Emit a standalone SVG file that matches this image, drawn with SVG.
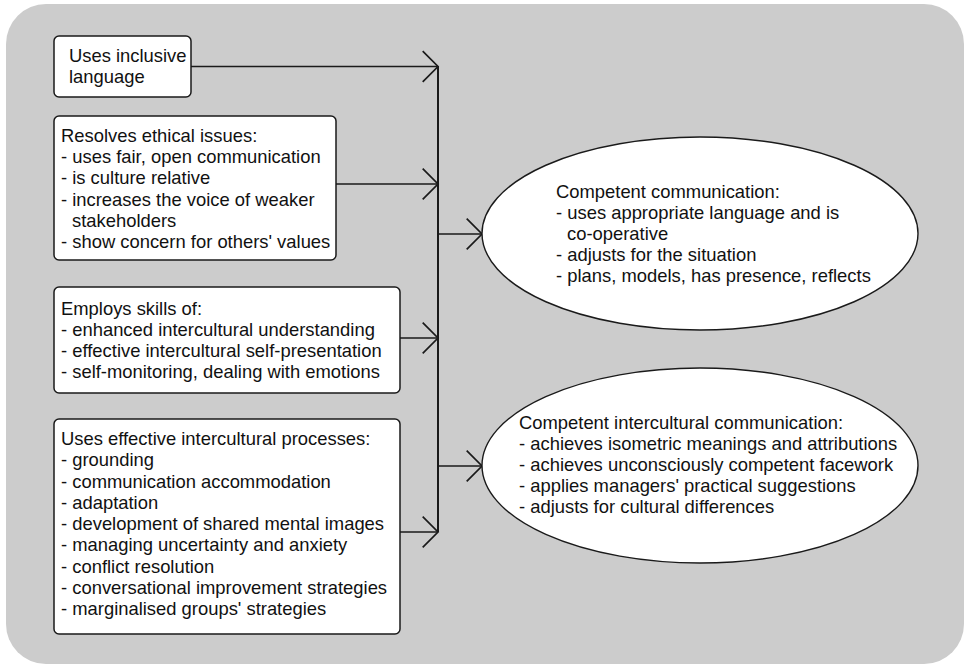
<svg xmlns="http://www.w3.org/2000/svg" width="967" height="666" viewBox="0 0 967 666">
  <style>
    .panel { fill: #cccccc; }
    .box { fill: #ffffff; stroke: #1a1a1a; stroke-width: 1.5; }
    .oval { fill: #ffffff; stroke: #1a1a1a; stroke-width: 1.4; }
    .wire { fill: none; stroke: #1a1a1a; stroke-width: 1.6; }
    .spine { fill: none; stroke: #1a1a1a; stroke-width: 2; }
    text { font-family: "Liberation Sans", Arial, sans-serif; font-size: 18.4px; fill: #111111; }
  </style>
  <defs>
    <marker id="chevron" markerUnits="userSpaceOnUse" markerWidth="20" markerHeight="34" viewBox="-16 -16 18 32" refX="0" refY="0" orient="auto">
      <path d="M-14.4,-14.4 L0,0 L-14.4,14.4" fill="none" stroke="#1a1a1a" stroke-width="1.6"/>
    </marker>
  </defs>

  <!-- grey panel -->
  <rect class="panel" x="6" y="4" width="958" height="660" rx="40" ry="40"/>

  <!-- connectors -->
  <g id="connectors">
    <path class="wire" d="M191,66.5 H438" marker-end="url(#chevron)"/>
    <path class="wire" d="M336,184 H438" marker-end="url(#chevron)"/>
    <path class="wire" d="M400,338 H438" marker-end="url(#chevron)"/>
    <path class="wire" d="M400,532 H438" marker-end="url(#chevron)"/>
    <path class="spine" d="M438,66 V532"/>
    <path class="wire" d="M438,234 H482" marker-end="url(#chevron)"/>
    <path class="wire" d="M438,466 H482" marker-end="url(#chevron)"/>
  </g>

  <g id="inclusive-language">
    <rect class="box" x="54" y="36" width="137" height="61" rx="5"/>
    <text x="69" y="62">Uses inclusive<tspan x="69" y="83">language</tspan></text>
  </g>

  <g id="ethical-issues">
    <rect class="box" x="54" y="116" width="282" height="144" rx="5"/>
    <text x="61" y="142">Resolves ethical issues:<tspan x="61" y="163">- uses fair, open communication</tspan><tspan x="61" y="184">- is culture relative</tspan><tspan x="61" y="206">- increases the voice of weaker</tspan><tspan x="72" y="227">stakeholders</tspan><tspan x="61" y="248">- show concern for others' values</tspan></text>
  </g>

  <g id="skills">
    <rect class="box" x="54" y="287" width="346" height="106" rx="5"/>
    <text x="61" y="315">Employs skills of:<tspan x="61" y="336">- enhanced intercultural understanding</tspan><tspan x="61" y="357">- effective intercultural self-presentation</tspan><tspan x="61" y="378">- self-monitoring, dealing with emotions</tspan></text>
  </g>

  <g id="processes">
    <rect class="box" x="54" y="419" width="346" height="215" rx="5"/>
    <text x="61" y="445">Uses effective intercultural processes:<tspan x="61" y="466">- grounding</tspan><tspan x="61" y="488">- communication accommodation</tspan><tspan x="61" y="509">- adaptation</tspan><tspan x="61" y="530">- development of shared mental images</tspan><tspan x="61" y="551">- managing uncertainty and anxiety</tspan><tspan x="61" y="573">- conflict resolution</tspan><tspan x="61" y="594">- conversational improvement strategies</tspan><tspan x="61" y="615">- marginalised groups' strategies</tspan></text>
  </g>

  <g id="competent-communication">
    <ellipse class="oval" cx="700" cy="233.5" rx="218" ry="96.5"/>
    <text x="556" y="198">Competent communication:<tspan x="556" y="219">- uses appropriate language and is</tspan><tspan x="567" y="240">co-operative</tspan><tspan x="556" y="261">- adjusts for the situation</tspan><tspan x="556" y="282">- plans, models, has presence, reflects</tspan></text>
  </g>

  <g id="competent-intercultural-communication">
    <ellipse class="oval" cx="700" cy="465.5" rx="218" ry="97.5"/>
    <text x="519" y="429">Competent intercultural communication:<tspan x="519" y="450">- achieves isometric meanings and attributions</tspan><tspan x="519" y="471">- achieves unconsciously competent facework</tspan><tspan x="519" y="492">- applies managers' practical suggestions</tspan><tspan x="519" y="513">- adjusts for cultural differences</tspan></text>
  </g>
</svg>
